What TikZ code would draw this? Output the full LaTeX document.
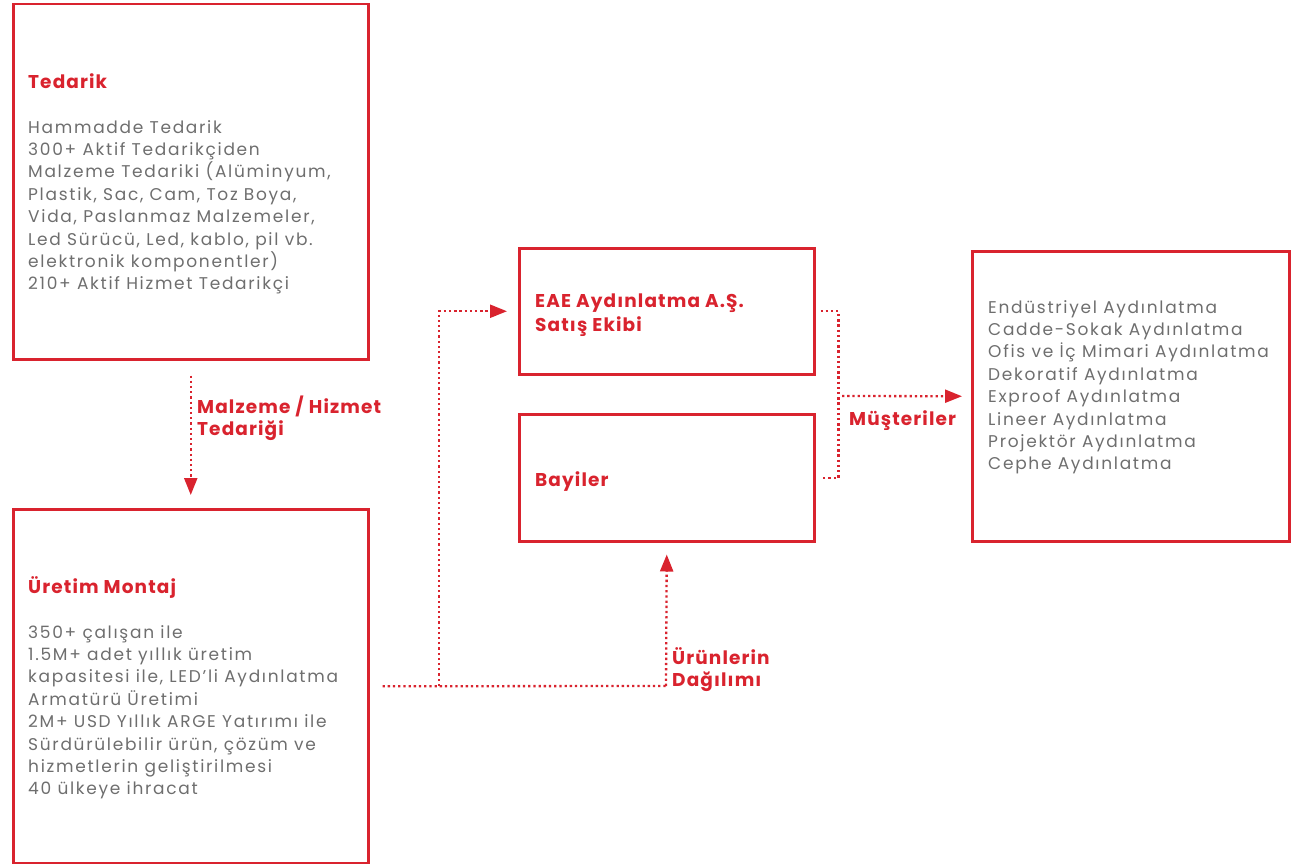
\documentclass[tikz,border=0pt]{standalone}
\usepackage{fontspec}
\setmainfont[LetterSpace=10]{Poppins}
\newfontfamily\headfont[LetterSpace=6]{Poppins}
\usetikzlibrary{arrows.meta}
\definecolor{eaered}{HTML}{D9232E}
\definecolor{bodygray}{HTML}{6E6E6E}
\tikzset{
  box/.style={draw=eaered, line width=2.5pt, inner sep=0pt, anchor=north west},
  title/.style={text=eaered, font=\headfont\fontsize{18.5}{24}\selectfont\bfseries, inner sep=0pt, anchor=base west, align=left},
  body/.style={text=bodygray, font=\fontsize{17}{22.4}\selectfont, inner sep=0pt, anchor=base west, align=left},
  conn/.style={draw=eaered, line width=2.3pt, dash pattern=on 2.3pt off 2.9pt},
  tip/.style={-{Triangle[length=17pt,width=13pt]}}
}
\begin{document}
\begin{tikzpicture}[x=1pt,y=-1pt]
\useasboundingbox (0,0) rectangle (1292,864);
% boxes
\node[box, minimum width=355pt, minimum height=355pt] (tedarik) at (12,3) {};
\node[box, minimum width=355pt, minimum height=354pt] (uretim) at (12,508) {};
\node[box, minimum width=295pt, minimum height=126pt] (eae) at (518,247) {};
\node[box, minimum width=295pt, minimum height=127pt] (bayiler) at (518,413) {};
\node[box, minimum width=317pt, minimum height=290pt] (musteri) at (971,250) {};
% texts (anchor = baseline of last line)
\node[title] (t1) at (28,88.5) {Tedarik};
\node[body] (b1) at (28,289.8) {Hammadde Tedarik\\300+ Aktif Tedarikçiden\\Malzeme Tedariki (Alüminyum,\\Plastik, Sac, Cam, Toz Boya,\\Vida, Paslanmaz Malzemeler,\\Led Sürücü, Led, kablo, pil vb.\\elektronik komponentler)\\210+ Aktif Hizmet Tedarikçi};
\node[title] (t2) at (28,593.5) {Üretim Montaj};
\node[body] (b2) at (28,794.8) {350+ çalışan ile\\1.5M+ adet yıllık üretim\\kapasitesi ile, LED’li Aydınlatma\\Armatürü Üretimi\\2M+ USD Yıllık ARGE Yatırımı ile\\Sürdürülebilir ürün, çözüm ve\\hizmetlerin geliştirilmesi\\40 ülkeye ihracat};
\node[title] (t3) at (535,331.5) {EAE Aydınlatma A.Ş.\\Satış Ekibi};
\node[title] (t4) at (535,486.5) {Bayiler};
\node[body] (b3) at (988,469.8) {Endüstriyel Aydınlatma\\Cadde-Sokak Aydınlatma\\Ofis ve İç Mimari Aydınlatma\\Dekoratif Aydınlatma\\Exproof Aydınlatma\\Lineer Aydınlatma\\Projektör Aydınlatma\\Cephe Aydınlatma};
% labels
\node[title, font=\headfont\fontsize{18.5}{22}\selectfont\bfseries] (l1) at (197,435.5) {Malzeme / Hizmet\\Tedariği};
\node[title] (l2) at (849,425.5) {Müşteriler};
\node[title, font=\headfont\fontsize{18.5}{22}\selectfont\bfseries] (l3) at (672,686.5) {Ürünlerin\\Dağılımı};
% connectors
\coordinate (j1) at (439,686);
\coordinate (j2) at (666,686);
\coordinate (m) at (842,396);
\draw[conn, tip] ([yshift=-15pt]tedarik.south) -- ([yshift=13pt]uretim.north);
\draw[conn] ([xshift=13pt]uretim.east) -- (j2);
\draw[conn, tip] (j1) |- ([xshift=-11pt]eae.west);
\draw[conn, tip] (j2) -- ([yshift=-12pt]bayiler.south);
\draw[conn] ([xshift=5pt]eae.east) -- ++(18,0) |- ([xshift=5pt]bayiler.east);
\draw[conn, tip] (m) -- ([xshift=-9pt]musteri.west);
\end{tikzpicture}
\end{document}
